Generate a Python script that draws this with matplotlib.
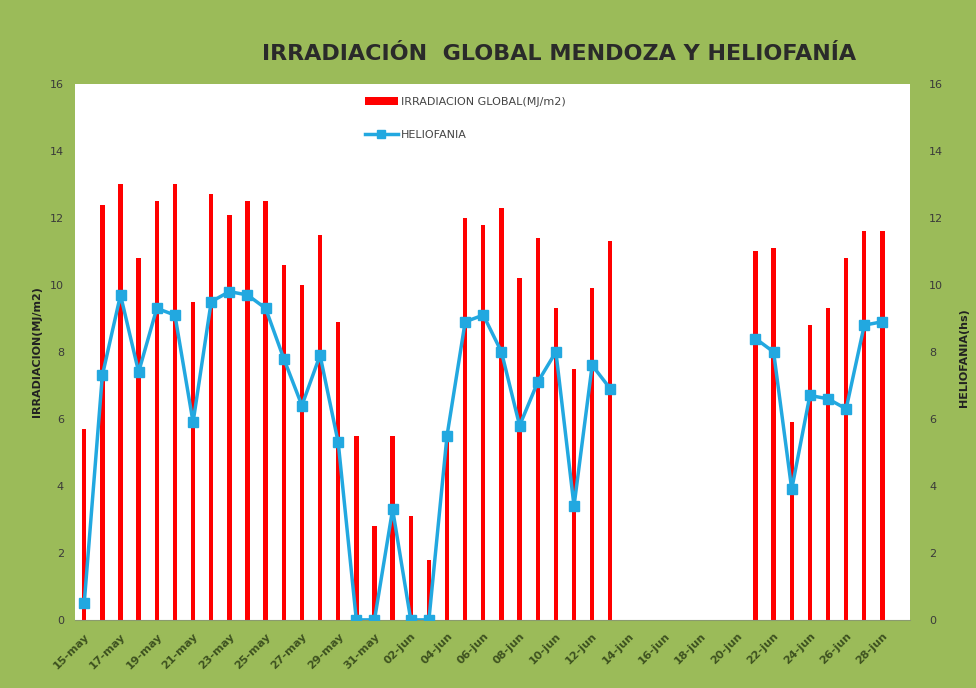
import numpy as np
import matplotlib.pyplot as plt

# Días (15-may a 29-jun)
dias = [f"{d:02d}-may" for d in range(15, 32)] + [f"{d:02d}-jun" for d in range(1, 30)]

# Irradiación global (MJ/m2); None = sin dato
irradiacion = [5.7, 12.4, 13.0, 10.8, 12.5, 13.0, 9.5, 12.7, 12.1, 12.5,
               12.5, 10.6, 10.0, 11.5, 8.9, 5.5, 2.8, 5.5, 3.1, 1.8,
               5.6, 12.0, 11.8, 12.3, 10.2, 11.4, 9.3, 7.5, 9.9, 11.3,
               None, None, None, None, None, None, None,
               11.0, 11.1, 5.9, 8.8, 9.3, 10.8, 11.6, 11.6, None]

# Heliofanía (hs)
heliofania = [0.5, 7.3, 9.7, 7.4, 9.3, 9.1, 5.9, 9.5, 9.8, 9.7,
              9.3, 7.8, 6.4, 7.9, 5.3, 0.0, 0.0, 3.3, 0.0, 0.0,
              5.5, 8.9, 9.1, 8.0, 5.8, 7.1, 8.0, 3.4, 7.6, 6.9,
              None, None, None, None, None, None, None,
              8.4, 8.0, 3.9, 6.7, 6.6, 6.3, 8.8, 8.9, None]

verde = '#9BBB59'
x = np.arange(len(dias))
irr = np.array([np.nan if v is None else v for v in irradiacion])
hel = np.array([np.nan if v is None else v for v in heliofania])

fig = plt.figure(figsize=(9.76, 6.88), dpi=100, facecolor=verde)
ax = fig.add_axes([0.077, 0.099, 0.855, 0.779])
ax.set_facecolor('white')

ax.bar(x, irr, width=0.24, color='#FF0000', label='IRRADIACION GLOBAL(MJ/m2)', zorder=2)
ax.set_xlim(-0.5, len(dias) - 0.5)
ax.set_ylim(0, 16)
ax.set_yticks(range(0, 17, 2))

ax2 = ax.twinx()
ax2.plot(x, hel, color='#22A8E0', lw=2.5, marker='s', ms=7,
         label='HELIOFANIA', zorder=3)
ax2.set_ylim(0, 16)
ax2.set_yticks(range(0, 17, 2))

for a in (ax, ax2):
    for s in a.spines.values():
        s.set_visible(False)
    a.tick_params(axis='y', length=0, labelsize=8, labelcolor='#3A3A3A', pad=14)
ax.tick_params(axis='y', pad=8)
ax.spines['bottom'].set_visible(True)
ax.spines['bottom'].set_color('#8A9A70')

ax.set_xticks(x[::2])
ax.set_xticklabels(dias[::2], rotation=45, ha='right', rotation_mode='anchor',
                   fontsize=8, fontweight='bold', color='#3E5220')
ax.tick_params(axis='x', length=0, pad=8)

ax.set_ylabel('IRRADIACION(MJ/m2)', fontsize=8, fontweight='bold', color='#222222', labelpad=6)
fig.text(0.988, 0.48, 'HELIOFANIA(hs)', rotation=90, fontsize=8, fontweight='bold',
         color='#222222', ha='center', va='center')

fig.text(0.573, 0.921, 'IRRADIACIÓN  GLOBAL MENDOZA Y HELIOFANÍA', fontsize=16,
         fontweight='bold', color='#2A2A2A', ha='center', va='center')

h1, l1 = ax.get_legend_handles_labels()
h2, l2 = ax2.get_legend_handles_labels()
leg = ax2.legend(h1 + h2, l1 + l2, loc='upper left', bbox_to_anchor=(0.335, 0.995),
                 frameon=False, fontsize=8, labelcolor='#444444', handlelength=3,
                 handleheight=0.7, labelspacing=2.1, markerscale=0.9, handletextpad=0.3)

fig.savefig('out.png', dpi=100, facecolor=verde)
